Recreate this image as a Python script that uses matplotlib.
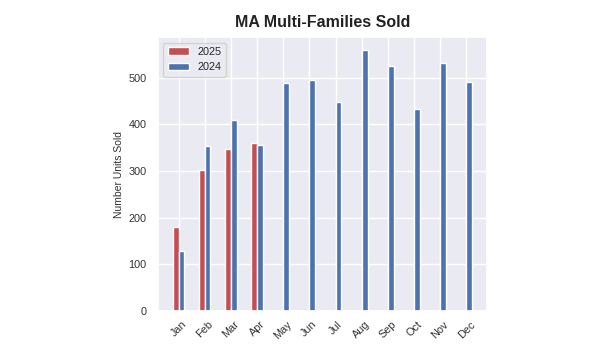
import matplotlib
matplotlib.use("Agg")
import matplotlib.pyplot as plt
import seaborn as sns
import numpy as np

months = ["Jan", "Feb", "Mar", "Apr", "May", "Jun", "Jul", "Aug", "Sep", "Oct", "Nov", "Dec"]
sold_2025 = [179, 303, 348, 359]
sold_2024 = [129, 353, 409, 355, 488, 496, 447, 559, 525, 432, 532, 491]

sns.set_theme(style="darkgrid")
plt.rcParams['font.family'] = ['Liberation Sans', 'DejaVu Sans']

fig = plt.figure(figsize=(6, 3.57), dpi=100)
ax = fig.add_axes([0.263, 0.129, 0.549, 0.767])

x = np.arange(len(months))
w = 0.22
ax.bar(x[:len(sold_2025)], sold_2025, width=-w, align='edge', color='#c44e52', label='2025')
ax.bar(x, sold_2024, width=w, align='edge', color='#4c72b0', label='2024')

ax.set_xticks(x)
ax.set_xticklabels(months, rotation=45, fontsize=7.8, color='#333333')
ax.tick_params(axis='y', labelsize=7.8, labelcolor='#333333', length=0, pad=8)
ax.tick_params(axis='x', length=0, pad=6)
ax.set_yticks([0, 100, 200, 300, 400, 500])
ax.set_ylabel("Number Units Sold", fontsize=7.5, color='#333333', labelpad=3)
ax.set_title("MA Multi-Families Sold", fontsize=11.5, fontweight='bold', color='#222222', pad=7)
ax.legend(loc='upper left', fontsize=7.8, frameon=True)

fig.savefig("out.png", dpi=100)
